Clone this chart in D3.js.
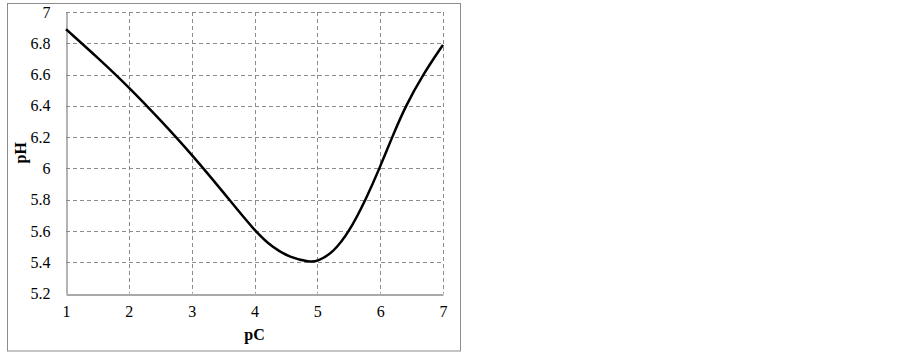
<!DOCTYPE html>
<html>
<head>
<meta charset="utf-8">
<script src="https://cdn.jsdelivr.net/npm/d3@7"></script>
<style>
  body { margin: 0; background: #fff; }
  svg { display: block; }
  text { font-family: "Liberation Serif", "Times New Roman", serif; fill: #000; }
</style>
</head>
<body>
<svg id="chart"></svg>
<script>
// values
const pC = [1, 1.5, 2, 2.5, 3, 3.5, 4, 4.3, 4.56, 4.88, 5, 5.25, 5.515, 5.77, 5.99, 6.19, 6.405, 6.68, 7];
const pH = [6.89, 6.71, 6.52, 6.31, 6.09, 5.85, 5.6, 5.49, 5.431, 5.4, 5.405, 5.46, 5.6, 5.8, 6.0, 6.2, 6.4, 6.6, 6.79];
const xTicks = [1, 2, 3, 4, 5, 6, 7];
const yTicks = [5.2, 5.4, 5.6, 5.8, 6, 6.2, 6.4, 6.6, 6.8, 7];

const width = 903, height = 354;
const plot = { left: 66, right: 443, top: 12, bottom: 293.5 };
const gridColor = '#8c8c8c';

const svg = d3.select('#chart').attr('width', width).attr('height', height);

// outer frame
svg.append('rect')
  .attr('x', 7.5).attr('y', 3.5)
  .attr('width', 453).attr('height', 347.5)
  .attr('fill', 'none').attr('stroke', '#8c8c8c').attr('stroke-width', 1);

const x = d3.scaleLinear().domain([1, 7]).range([plot.left, plot.right]);
const y = d3.scaleLinear().domain([5.2, 7]).range([plot.bottom, plot.top]);

// dashed grid
svg.append('g')
  .selectAll('line')
  .data(yTicks.slice(1))
  .join('line')
  .attr('x1', plot.left).attr('x2', plot.right)
  .attr('y1', (d) => Math.round(y(d)) + 0.5).attr('y2', (d) => Math.round(y(d)) + 0.5)
  .attr('stroke', gridColor).attr('stroke-dasharray', '4,3');

svg.append('g')
  .selectAll('line')
  .data(xTicks.slice(1))
  .join('line')
  .attr('x1', (d) => Math.round(x(d)) + 0.5).attr('x2', (d) => Math.round(x(d)) + 0.5)
  .attr('y1', plot.top).attr('y2', plot.bottom)
  .attr('stroke', gridColor).attr('stroke-dasharray', '4,3');

// axes
const xAxis = svg.append('g')
  .attr('transform', `translate(0,${Math.round(plot.bottom) + 0.5})`)
  .call(d3.axisBottom(x).tickValues(xTicks).tickSize(0).tickPadding(11).tickFormat(d3.format('d')));
const yAxis = svg.append('g')
  .attr('transform', `translate(${plot.left + 0.5},0)`)
  .call(d3.axisLeft(y).tickValues(yTicks).tickSize(0).tickPadding(16).tickFormat((d) => d3.format('~g')(d)));

[xAxis, yAxis].forEach((a) => {
  a.select('.domain').attr('stroke', gridColor).attr('stroke-width', 1.3);
  a.selectAll('text').attr('font-size', 16).attr('font-family', '"Liberation Serif", serif');
});

// curve, smoothed through the read points
const points = pC.map((c, i) => [c, pH[i]]);
svg.append('path')
  .datum(points)
  .attr('fill', 'none')
  .attr('stroke', '#000')
  .attr('stroke-width', 2.5)
  .attr('d', d3.line().x((d) => x(d[0])).y((d) => y(d[1])).curve(d3.curveBasis));

// axis titles
svg.append('text')
  .attr('x', (plot.left + plot.right) / 2).attr('y', 340)
  .attr('text-anchor', 'middle')
  .attr('font-size', 16).attr('font-weight', 'bold')
  .text('pC');

svg.append('text')
  .attr('transform', `translate(26,${(plot.top + plot.bottom) / 2}) rotate(-90)`)
  .attr('text-anchor', 'middle')
  .attr('font-size', 16).attr('font-weight', 'bold')
  .text('pH');
</script>
</body>
</html>
